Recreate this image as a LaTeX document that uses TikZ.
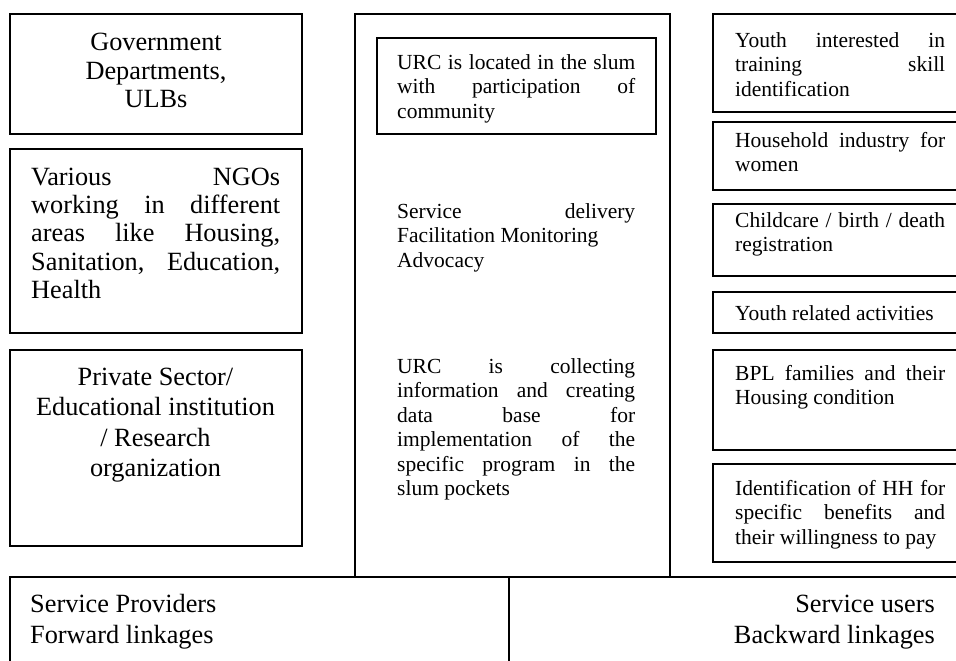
\documentclass[tikz,border=0pt]{standalone}
\usepackage{fontspec}
\setmainfont{Liberation Serif}
\usetikzlibrary{fit}
% a line stretched to the given width, like a justified paragraph line
\newcommand\jline[2]{\makebox[#1][s]{#2}}
\tikzset{
  frame/.style={draw=black, line width=1.6pt, inner sep=0pt, outer sep=0pt},
  bigtext/.style={inner sep=0pt, font=\fontsize{26.3pt}{28.3pt}\selectfont},
  midtext/.style={inner sep=0pt, font=\fontsize{26.3pt}{30.5pt}\selectfont},
  smalltext/.style={inner sep=0pt, align=left, font=\fontsize{21.5pt}{24.5pt}\selectfont},
}
\begin{document}
\begin{tikzpicture}[x=1pt, y=-1pt]
\useasboundingbox (0,0) rectangle (956,661);
\clip (0,0) rectangle (956,661);

% left column: service providers
\node[frame, fit={(10,14) (302,134)}] (gov) {};
\node[frame, fit={(10,149) (302,333)}] (ngo) {};
\node[frame, fit={(10,350) (302,546)}] (priv) {};

\node[bigtext, align=center, anchor=north] (govtext) at (156,30.9)
  {\strut Government\\Departments,\\ULBs};
\node[bigtext, align=left, anchor=north west] (ngotext) at (31,165.2)
  {\strut\jline{249pt}{Various NGOs}\\
   \jline{249pt}{working in different}\\
   \jline{249pt}{areas like Housing,}\\
   \jline{249pt}{Sanitation, Education,}\\
   Health};
\node[midtext, align=center, anchor=north] (privtext) at (155.5,363.6)
  {\strut Private Sector/\\Educational institution\\/ Research\\organization};

% middle column: the URC
\node[frame, fit={(355,14) (670,577)}] (urc) {};
\node[frame, fit={(377,38) (656,134)}] (loc) {};
\node[smalltext, anchor=north west] (loctext) at (397,51.9)
  {\strut\jline{238pt}{URC is located in the slum}\\
   \jline{238pt}{with participation of}\\
   community};
\node[smalltext, anchor=north west] (roles) at (397,200.9)
  {\strut\jline{238pt}{Service delivery}\\
   Facilitation Monitoring\\
   Advocacy};
\node[smalltext, anchor=north west] (data) at (397,355.9)
  {\strut\jline{238pt}{URC is collecting}\\
   \jline{238pt}{information and creating}\\
   \jline{238pt}{data base for}\\
   \jline{238pt}{implementation of the}\\
   \jline{238pt}{specific program in the}\\
   slum pockets};

% right column: service users
\node[frame, fit={(713,14) (990,112)}] (u1) {};
\node[frame, fit={(713,122) (990,190)}] (u2) {};
\node[frame, fit={(713,204) (990,276)}] (u3) {};
\node[frame, fit={(713,292) (990,333)}] (u4) {};
\node[frame, fit={(713,350) (990,450)}] (u5) {};
\node[frame, fit={(713,464) (990,562)}] (u6) {};

\node[smalltext, anchor=north west] (u1text) at (735,29.85)
  {\strut\jline{210pt}{Youth interested in}\\
   \jline{210pt}{training skill}\\
   identification};
\node[smalltext, anchor=north west] (u2text) at (735,129.85)
  {\strut\jline{210pt}{Household industry for}\\women};
\node[smalltext, anchor=north west] (u3text) at (735,209.85)
  {\strut\jline{210pt}{Childcare / birth / death}\\registration};
\node[smalltext, anchor=north west] (u4text) at (735,302.85)
  {\strut Youth related activities};
\node[smalltext, anchor=north west] (u5text) at (735,362.85)
  {\strut\jline{210pt}{BPL families and their}\\Housing condition};
\node[smalltext, anchor=north west] (u6text) at (735,477.85)
  {\strut\jline{210pt}{Identification of HH for}\\
   \jline{210pt}{specific benefits and}\\
   their willingness to pay};

% bottom band: linkages
\node[frame, fit={(10,577) (509,700)}] (fwd) {};
\node[frame, fit={(509,577) (990,700)}] (bwd) {};
\node[midtext, align=left, anchor=north west] (fwdtext) at (30,591.3)
  {\strut Service Providers\\Forward linkages};
\node[midtext, align=right, anchor=north east] (bwdtext) at (935,591.3)
  {\strut Service users\\Backward linkages};
\end{tikzpicture}
\end{document}
